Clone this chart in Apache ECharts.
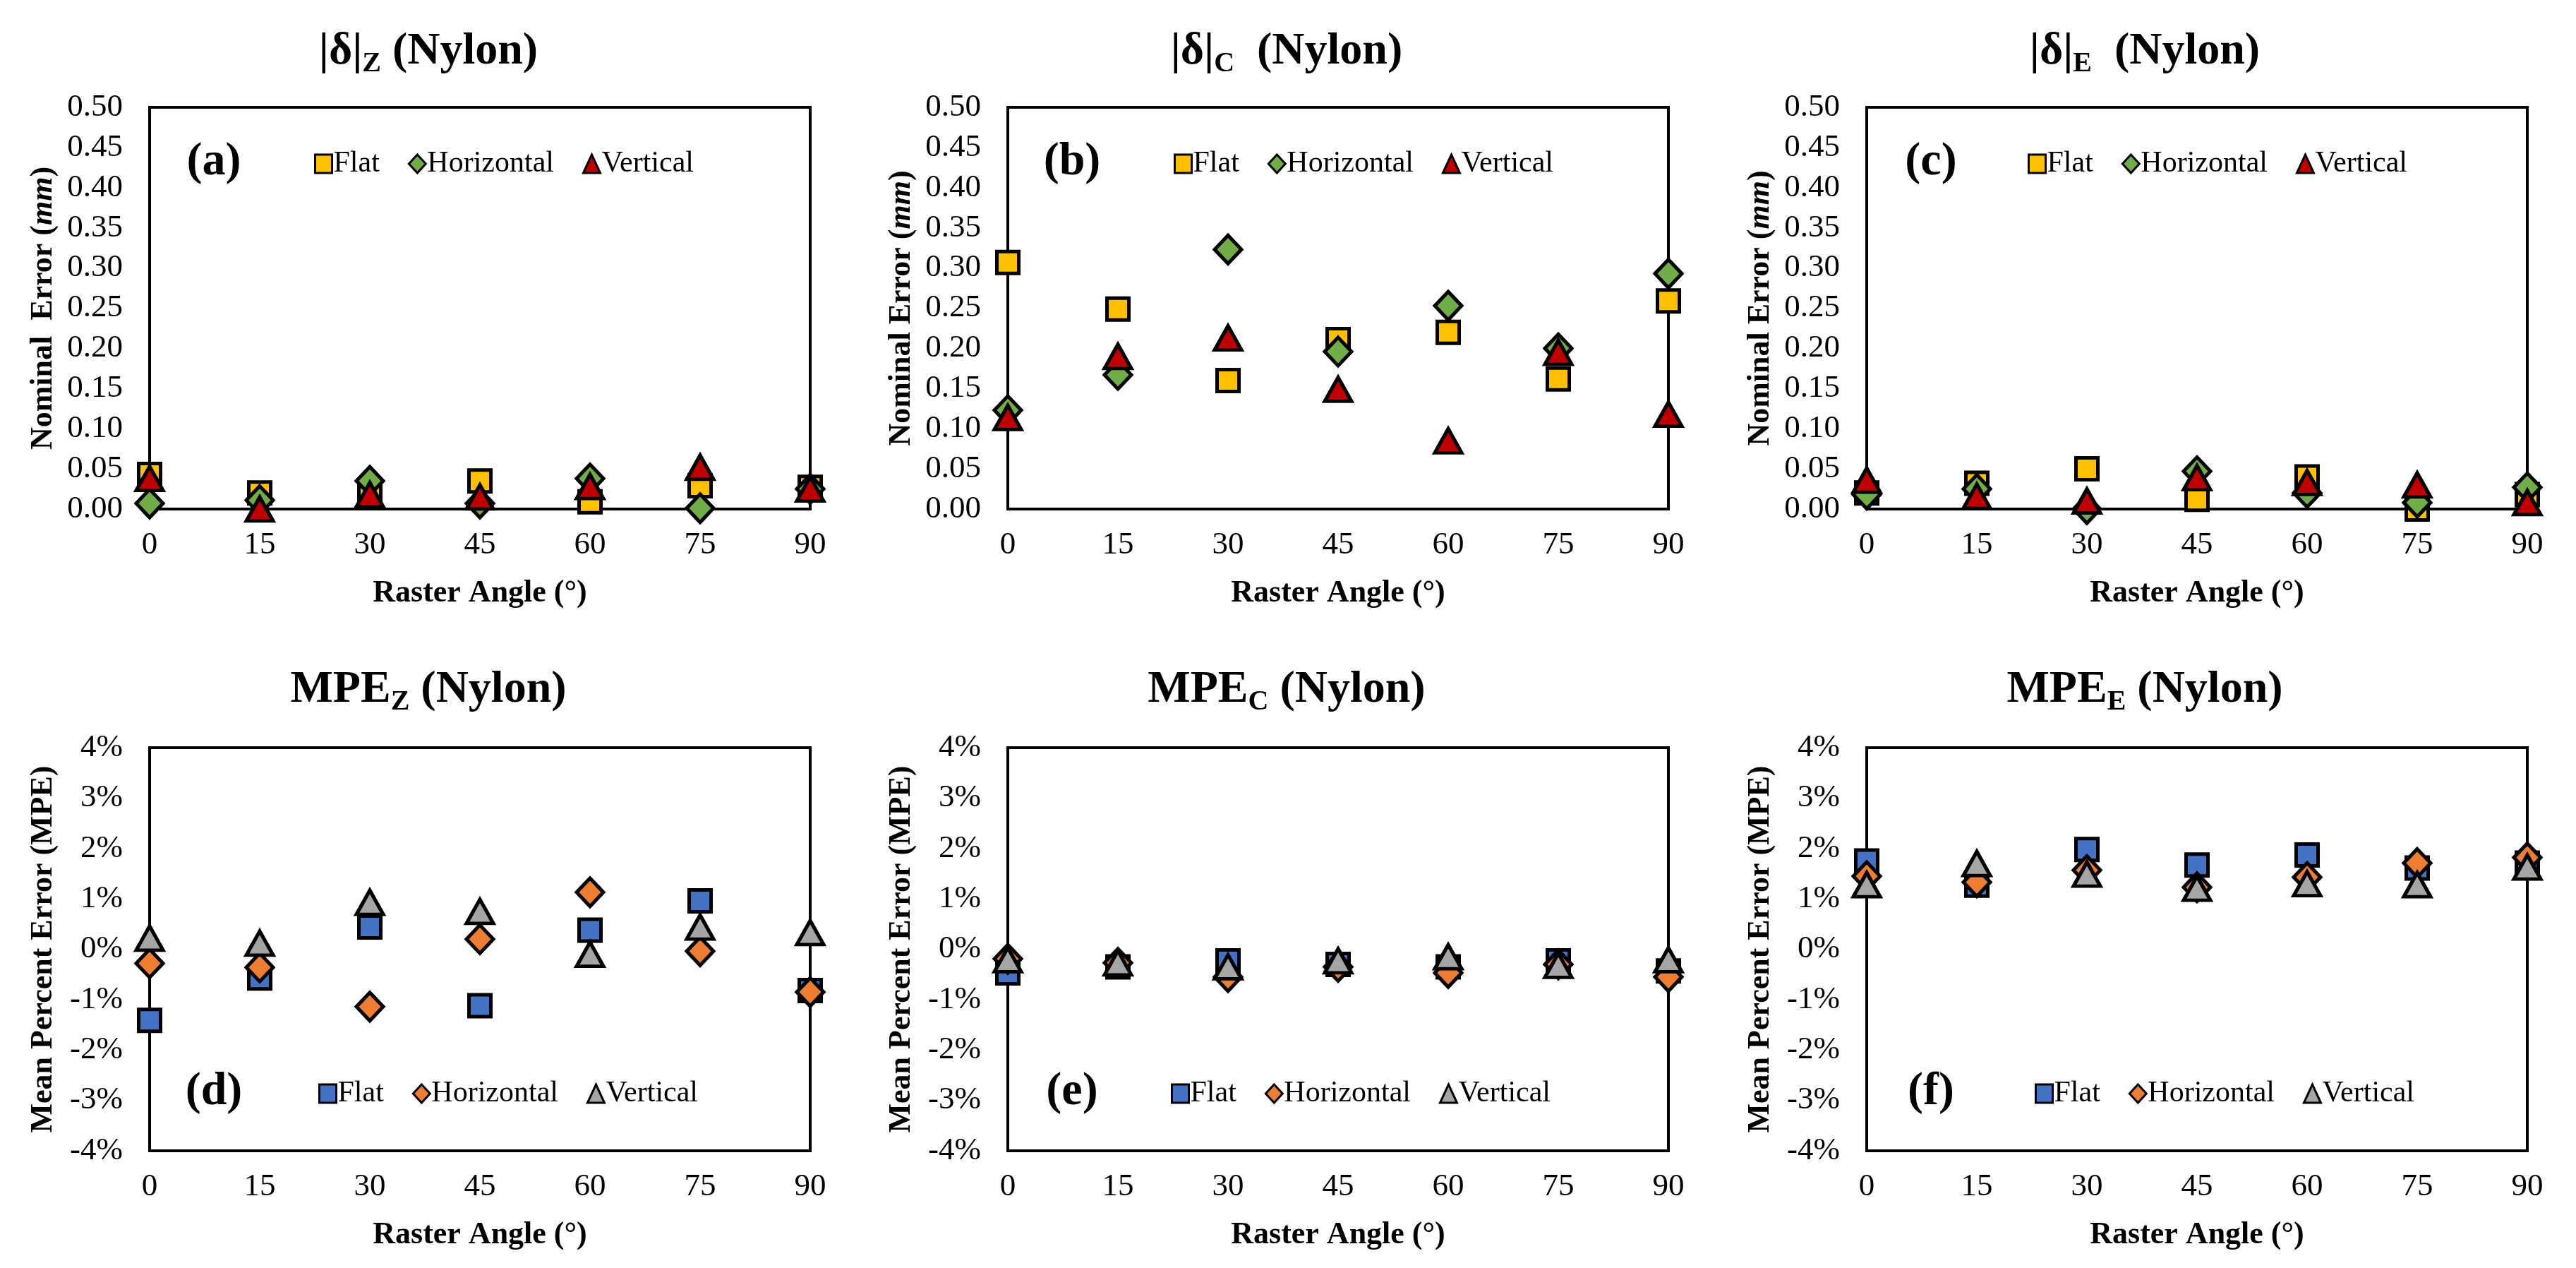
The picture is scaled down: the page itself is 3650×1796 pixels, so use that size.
<!DOCTYPE html>
<html>
<head>
<meta charset="utf-8">
<script src="https://cdn.jsdelivr.net/npm/echarts@6/dist/echarts.min.js"></script>
<style>
  html, body { margin: 0; padding: 0; background: #fff; }
  #main { width: 3650px; height: 1796px; }
</style>
</head>
<body>
<div id="main"></div>
<script>
(function () {
  var angles = [0, 15, 30, 45, 60, 75, 90];

  // |delta| nominal error (mm)
  var zFlat = [0.043, 0.020, 0.018, 0.035, 0.009, 0.029, 0.027];
  var zHoriz = [0.007, 0.011, 0.035, 0.007, 0.038, 0.001, 0.025];
  var zVert = [0.038, 0.000, 0.018, 0.015, 0.028, 0.052, 0.025];

  var cFlat = [0.307, 0.249, 0.160, 0.211, 0.220, 0.162, 0.259];
  var cHoriz = [0.123, 0.167, 0.323, 0.196, 0.253, 0.200, 0.293];
  var cVert = [0.114, 0.190, 0.213, 0.149, 0.085, 0.195, 0.118];

  var eFlat = [0.020, 0.032, 0.050, 0.012, 0.040, 0.000, 0.018];
  var eHoriz = [0.018, 0.025, 0.000, 0.047, 0.020, 0.008, 0.027];
  var eVert = [0.036, 0.016, 0.010, 0.039, 0.033, 0.030, 0.008];

  // mean percent error (%)
  var mzFlat = [-1.41, -0.57, 0.44, -1.12, 0.38, 0.96, -0.82];
  var mzHoriz = [-0.28, -0.36, -1.14, 0.20, 1.13, -0.04, -0.85];
  var mzVert = [0.22, 0.12, 0.93, 0.75, -0.10, 0.44, 0.33];

  var mcFlat = [-0.47, -0.35, -0.23, -0.30, -0.35, -0.23, -0.43];
  var mcHoriz = [-0.19, -0.27, -0.55, -0.35, -0.47, -0.30, -0.55];
  var mcVert = [-0.21, -0.27, -0.35, -0.23, -0.15, -0.32, -0.21];

  var meFlat = [1.75, 1.27, 1.98, 1.67, 1.87, 1.61, 1.71];
  var meHoriz = [1.45, 1.33, 1.57, 1.23, 1.43, 1.71, 1.82];
  var meVert = [1.28, 1.70, 1.49, 1.21, 1.30, 1.28, 1.63];

  var topColors = ['#FFC000', '#70AD47', '#C00000'];
  var botColors = ['#4472C4', '#ED7D31', '#A5A5A5'];
  var seriesNames = ['Flat', 'Horizontal', 'Vertical'];
  var symbols = ['rect', 'diamond', 'triangle'];
  var symbolSizes = [31, [38, 40], [38, 34]];

  var FONT = "'Times New Roman', 'Liberation Serif', serif";

  var panels = [
    { sub: 'Z', gap: ' ', letter: '(a)', data: [zFlat, zHoriz, zVert], top: true },
    { sub: 'C', gap: '  ', letter: '(b)', data: [cFlat, cHoriz, cVert], top: true },
    { sub: 'E', gap: '  ', letter: '(c)', data: [eFlat, eHoriz, eVert], top: true },
    { sub: 'Z', gap: ' ', letter: '(d)', data: [mzFlat, mzHoriz, mzVert], top: false },
    { sub: 'C', gap: ' ', letter: '(e)', data: [mcFlat, mcHoriz, mcVert], top: false },
    { sub: 'E', gap: ' ', letter: '(f)', data: [meFlat, meHoriz, meVert], top: false }
  ];

  var gridLefts = [212, 1428, 2645];
  var titleX = [602, 1818, 3034];
  var legendX = [[440, 1658, 2868], [446, 1654, 2878]];
  var letterX = [303, 1519, 2736];

  var grids = [], xAxes = [], yAxes = [], series = [], legends = [], titles = [], graphics = [];

  panels.forEach(function (p, i) {
    var col = i % 3, row = p.top ? 0 : 1;
    var colors = p.top ? topColors : botColors;
    var gTop = p.top ? 152 : 1059;
    var gH = p.top ? 569 : 571;
    grids.push({
      left: gridLefts[col], top: gTop, width: 936, height: gH,
      show: true, borderColor: '#000', borderWidth: 4, backgroundColor: 'transparent'
    });
    xAxes.push({
      type: 'value', gridIndex: i, min: 0, max: 90, interval: 15,
      name: 'Raster Angle (°)', nameLocation: 'middle', nameGap: 98,
      nameTextStyle: { fontFamily: FONT, fontWeight: 'bold', fontSize: 44, color: '#000' },
      axisLine: { show: true, onZero: false, lineStyle: { color: '#000', width: 4 } },
      axisTick: { show: false },
      splitLine: { show: false },
      axisLabel: { margin: 29, fontFamily: FONT, fontSize: 45, color: '#000' }
    });
    var yName = p.top
      ? '{b|Nominal' + (i === 0 ? '  ' : ' ') + 'Error (}{i|mm}{b|)}'
      : '{b|Mean Percent Error (MPE)}';
    yAxes.push({
      type: 'value', gridIndex: i,
      min: p.top ? 0 : -4, max: p.top ? 0.5 : 4, interval: p.top ? 0.05 : 1,
      name: yName, nameLocation: 'middle', nameGap: 128,
      nameTextStyle: {
        rich: {
          b: { fontFamily: FONT, fontWeight: 'bold', fontSize: 44, color: '#000' },
          i: { fontFamily: FONT, fontWeight: 'bold', fontStyle: 'italic', fontSize: 44, color: '#000' }
        }
      },
      axisLine: { show: true, lineStyle: { color: '#000', width: 4 } },
      axisTick: { show: false },
      splitLine: { show: false },
      axisLabel: {
        margin: 38, fontFamily: FONT, fontSize: 45, color: '#000',
        formatter: p.top ? function (v) { return v.toFixed(2); } : function (v) { return Math.round(v) + '%'; }
      }
    });
    var legendData = [];
    for (var k = 0; k < 3; k++) {
      var nm = seriesNames[k] + (p.top ? '' : '\u200b');
      var pts = angles.map(function (a, j) { return [a, p.data[k][j]]; });
      series.push({
        name: nm, type: 'scatter', xAxisIndex: i, yAxisIndex: i,
        symbol: symbols[k], symbolSize: symbolSizes[k], clip: false,
        itemStyle: { color: colors[k], borderColor: '#000', borderWidth: 5, opacity: 1 },
        data: pts
      });
      legendData.push(nm);
    }
    legends.push({
      data: legendData, left: legendX[row][col], top: p.top ? 206 : 1523,
      itemWidth: 24, itemHeight: 26, itemGap: 40,
      itemStyle: { borderWidth: 3, borderColor: '#000' },
      textStyle: { fontFamily: FONT, fontSize: 42, color: '#000', padding: [0, 0, 0, -3] }
    });
    var head = p.top ? '|δ|' : 'MPE';
    titles.push({
      text: '{m|' + head + '}{s|' + p.sub + '}{m|' + p.gap + '(Nylon)}',
      left: titleX[col], top: p.top ? 30 : 934, textAlign: 'center',
      textStyle: {
        rich: {
          m: { fontFamily: FONT, fontWeight: 'bold', fontSize: 64, color: '#000', lineHeight: 76 },
          s: { fontFamily: FONT, fontWeight: 'bold', fontSize: 40, color: '#000', verticalAlign: 'bottom', lineHeight: 42 }
        }
      }
    });
    graphics.push({
      type: 'text', x: letterX[col], y: p.top ? 230 : 1547,
      style: {
        text: p.letter, fontFamily: FONT, fontWeight: 'bold', fontSize: 66,
        fill: '#000', textAlign: 'center', textVerticalAlign: 'middle'
      }
    });
  });

  var myChart = echarts.init(document.getElementById('main'));
  myChart.setOption({
    backgroundColor: '#fff',
    animation: false,
    title: titles,
    grid: grids,
    xAxis: xAxes,
    yAxis: yAxes,
    legend: legends,
    graphic: graphics,
    series: series
  });
  window.addEventListener('resize', function () { myChart.resize(); });
})();
</script>
</body>
</html>
